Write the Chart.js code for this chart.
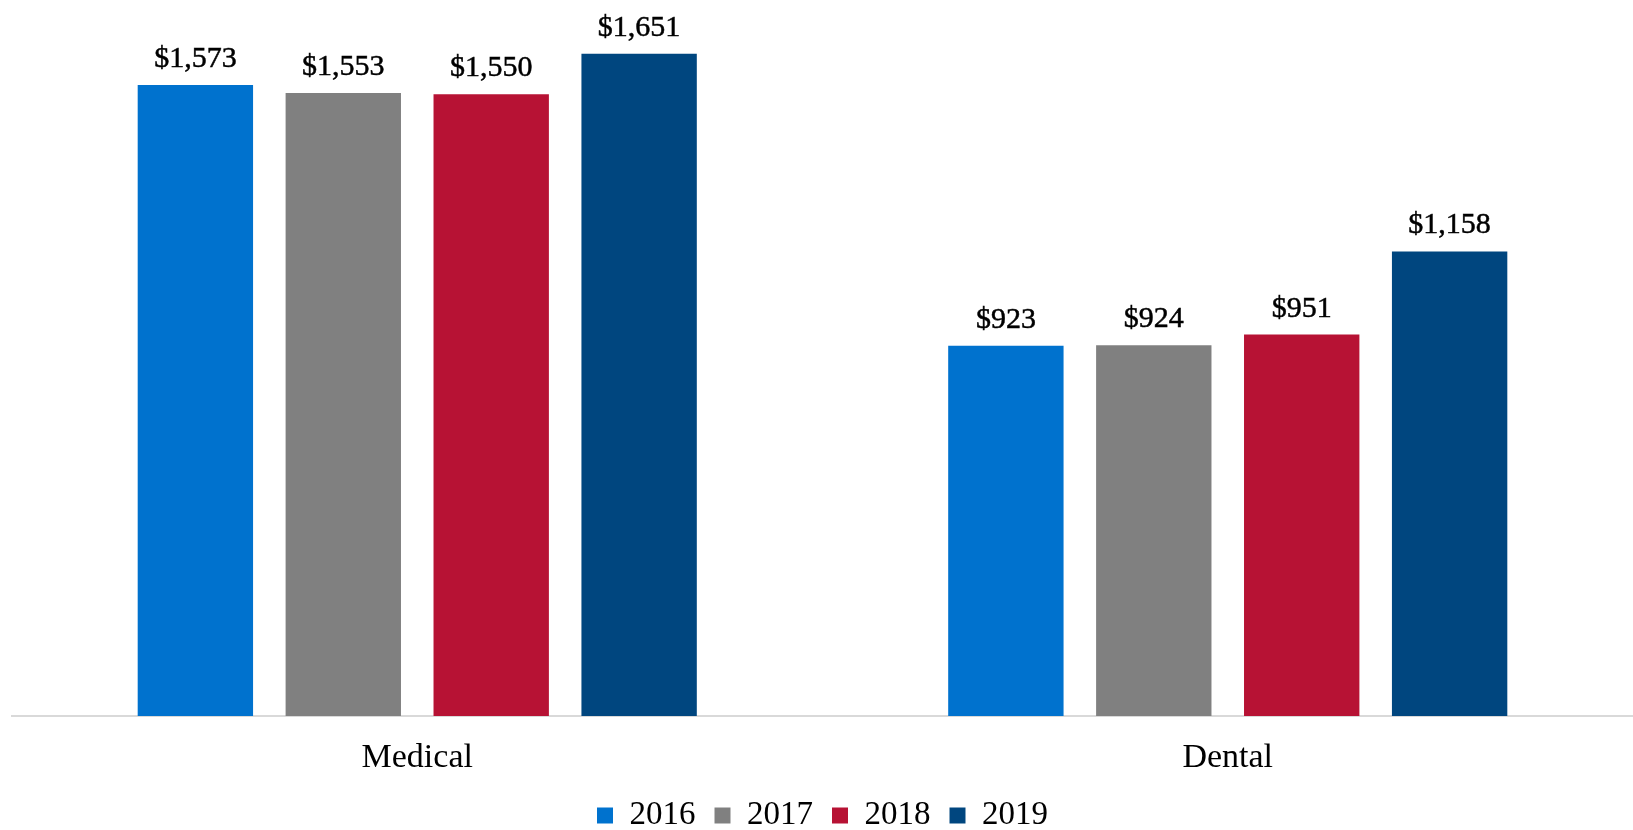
<!DOCTYPE html>
<html>
<head>
<meta charset="utf-8">
<script src="https://cdn.jsdelivr.net/npm/chart.js@4"></script>
<style>
  html, body { margin: 0; padding: 0; background: #fff; }
  #wrap { width: 1633px; height: 830px; }
</style>
</head>
<body>
<div id="wrap"><canvas id="grafico"></canvas></div>
<script>
const categorias = ["Medical", "Dental"];
const anios = ["2016", "2017", "2018", "2019"];
const v2016 = [1573, 923];
const v2017 = [1553, 924];
const v2018 = [1550, 951];
const v2019 = [1651, 1158];
const colores = ["#0072CE", "#808080", "#B71234", "#00467F"];

const fuente = "'Liberation Serif', 'DejaVu Serif', serif";

// Etiquetas de valor encima de cada barra
const etiquetas = {
  id: "etiquetas",
  afterDatasetsDraw(chart) {
    const ctx = chart.ctx;
    ctx.save();
    ctx.font = "30px " + fuente;
    ctx.fillStyle = "#000";
    ctx.strokeStyle = "#000";
    ctx.lineWidth = 0.5;
    ctx.textAlign = "center";
    ctx.textBaseline = "alphabetic";
    chart.data.datasets.forEach((ds, i) => {
      chart.getDatasetMeta(i).data.forEach((bar, j) => {
        const texto = "$" + ds.data[j].toLocaleString("en-US");
        ctx.fillText(texto, bar.x, bar.y - 18);
        ctx.strokeText(texto, bar.x, bar.y - 18);
      });
    });
    ctx.restore();
  },
};

const series = [v2016, v2017, v2018, v2019];

new Chart(document.getElementById("grafico"), {
  type: "bar",
  data: {
    labels: categorias,
    datasets: series.map((datos, i) => ({
      label: anios[i],
      data: datos,
      backgroundColor: colores[i],
      categoryPercentage: 0.73,
      barPercentage: 0.78,
    })),
  },
  options: {
    responsive: true,
    maintainAspectRatio: false,
    animation: false,
    layout: { padding: { top: 14, left: 12, right: 0, bottom: -12 } },
    plugins: {
      tooltip: { enabled: false },
      legend: {
        position: "bottom",
        labels: {
          boxWidth: 16,
          boxHeight: 16,
          padding: 19,
          color: "#000",
          font: { family: fuente, size: 33 },
        },
      },
    },
    scales: {
      x: {
        grid: { display: false },
        border: { display: true, color: "#d9d9d9", width: 2 },
        ticks: { color: "#000", padding: 14, font: { family: fuente, size: 34 } },
        afterFit(escala) {
          escala.height = 64;
        },
      },
      y: {
        display: false,
        min: 0,
        max: 1750,
      },
    },
  },
  plugins: [etiquetas],
});
</script>
</body>
</html>
